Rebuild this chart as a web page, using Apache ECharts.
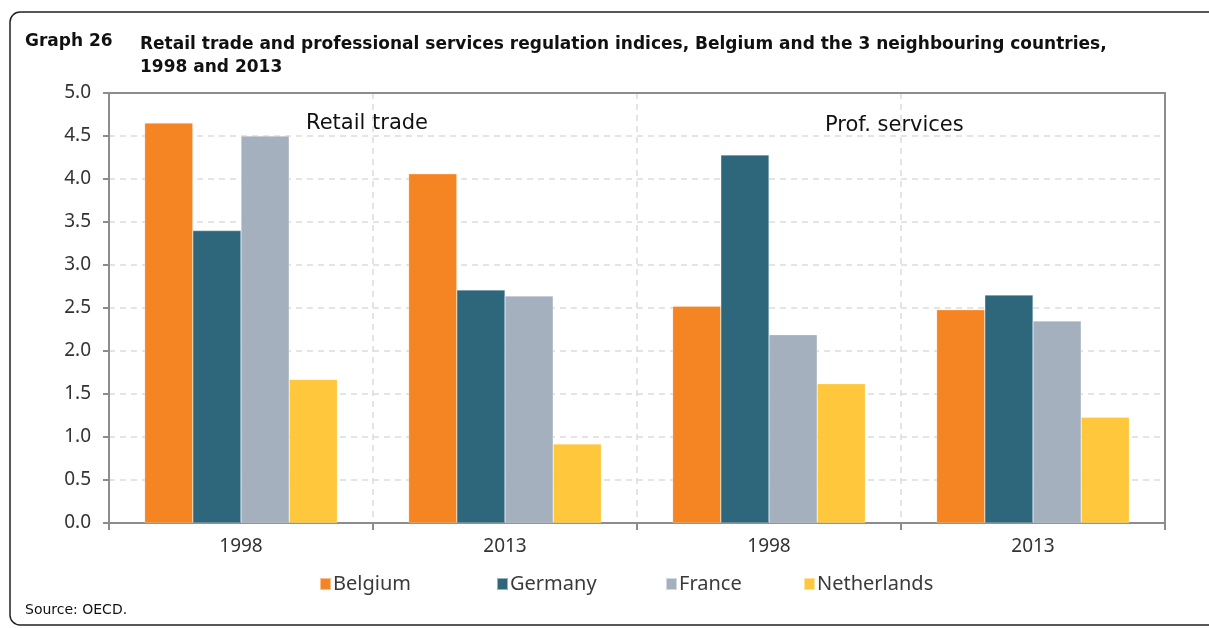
<!DOCTYPE html>
<html>
<head>
<meta charset="utf-8">
<script src="https://cdn.jsdelivr.net/npm/echarts@6/dist/echarts.min.js"></script>
<style>
  html, body { margin: 0; padding: 0; background: #fff; }
  #chart { width: 1209px; height: 628px; }
</style>
</head>
<body>
<div id="chart"></div>
<script>
// categories: 1998/2013 for retail trade, then 1998/2013 for prof. services
const categories = ['1998', '2013', '1998', '2013'];
const countries = ['Belgium', 'Germany', 'France', 'Netherlands'];
const belgium = [4.65, 4.06, 2.52, 2.48];
const germany = [3.40, 2.71, 4.28, 2.65];
const france = [4.50, 2.64, 2.19, 2.35];
const netherlands = [1.67, 0.92, 1.62, 1.23];
const yTicks = { min: 0, max: 5, interval: 0.5 };

const FONT = "'Noto Sans', 'DejaVu Sans', sans-serif";
const DV = "'DejaVu Sans', sans-serif";
const AXIS_GREY = '#8c8c8c';
const colors = ['#F58423', '#2E677C', '#A5B0BE', '#FFC73C'];
// legend item x positions (one legend per entry so the spacing follows the original)
const legendLeft = [314, 491, 660, 798];

let chart = echarts.init(document.getElementById('chart'), null, { renderer: 'canvas' });

function barSeries(name, data, color) {
    return {
        name: name,
        type: 'bar',
        data: data,
        barGap: '0%',
        barCategoryGap: '27%',
        itemStyle: { color: color, borderColor: 'rgba(255,255,255,0.5)', borderWidth: 0.5 }
    };
}

let gridDash = { color: '#dcdcdc', type: [6, 5], width: 1.5 };

let option = {
    animation: false,
    textStyle: { fontFamily: FONT },
    grid: { left: 109, right: 44, top: 93, bottom: 105 },
    legend: countries.map((name, i) => ({
        bottom: 29,
        left: legendLeft[i],
        itemWidth: 11,
        itemHeight: 12,
        icon: 'rect',
        textStyle: { fontFamily: FONT, fontSize: 20, color: '#3a3a3a', padding: [0, 0, 0, -3] },
        data: [name]
    })),
    xAxis: [{
        type: 'category',
        data: categories,
        axisLine: { lineStyle: { color: AXIS_GREY, width: 2 } },
        axisTick: { show: true, length: 7, interval: 0, lineStyle: { color: AXIS_GREY, width: 2 } },
        axisLabel: { margin: 14, fontSize: 19, color: '#333', fontFamily: FONT },
        splitLine: { show: true, interval: 0, showMinLine: false, showMaxLine: false, lineStyle: gridDash }
    }, {
        type: 'category',
        data: categories,
        position: 'top',
        z: 5,
        axisLine: { show: true, onZero: false, lineStyle: { color: AXIS_GREY, width: 2 } },
        axisTick: { show: false },
        axisLabel: { show: false },
        splitLine: { show: false }
    }],
    yAxis: [{
        type: 'value',
        min: yTicks.min,
        max: yTicks.max,
        interval: yTicks.interval,
        axisLine: { show: true, lineStyle: { color: AXIS_GREY, width: 2 } },
        axisTick: { show: true, length: 6, lineStyle: { color: AXIS_GREY, width: 2 } },
        axisLabel: { margin: 18, fontSize: 19, color: '#333', fontFamily: FONT,
            formatter: v => v.toFixed(1) },
        splitLine: { show: true, showMinLine: false, showMaxLine: false, lineStyle: gridDash }
    }, {
        type: 'value',
        min: yTicks.min,
        max: yTicks.max,
        interval: yTicks.interval,
        position: 'right',
        z: 5,
        axisLine: { show: true, onZero: false, lineStyle: { color: AXIS_GREY, width: 2 } },
        axisTick: { show: false },
        axisLabel: { show: false },
        splitLine: { show: false }
    }],
    series: [
        barSeries(countries[0], belgium, colors[0]),
        barSeries(countries[1], germany, colors[1]),
        barSeries(countries[2], france, colors[2]),
        barSeries(countries[3], netherlands, colors[3])
    ],
    graphic: [
        // outer rounded frame
        { type: 'rect', shape: { x: 10, y: 12, width: 1230, height: 613, r: 10 },
          style: { fill: 'none', stroke: '#222', lineWidth: 1.5 }, silent: true, z: -1 },
        { type: 'text', left: 25, top: 33,
          style: { text: 'Graph 26', fontFamily: DV, fontWeight: 'bold', fontSize: 17, fill: '#111' } },
        { type: 'text', left: 140, top: 33,
          style: { text: 'Retail trade and professional services regulation indices, Belgium and the 3 neighbouring countries,\n1998 and 2013',
                   fontFamily: DV, fontWeight: 'bold', fontSize: 17, lineHeight: 23, fill: '#111' } },
        { type: 'text', left: 306, top: 113,
          style: { text: 'Retail trade', fontFamily: DV, fontSize: 21, fill: '#111' } },
        { type: 'text', left: 825, top: 115,
          style: { text: 'Prof. services', fontFamily: DV, fontSize: 21, fill: '#111' } },
        { type: 'text', left: 25, top: 603,
          style: { text: 'Source: OECD.', fontFamily: DV, fontSize: 14, fill: '#111' } }
    ]
};

chart.setOption(option);
</script>
</body>
</html>
